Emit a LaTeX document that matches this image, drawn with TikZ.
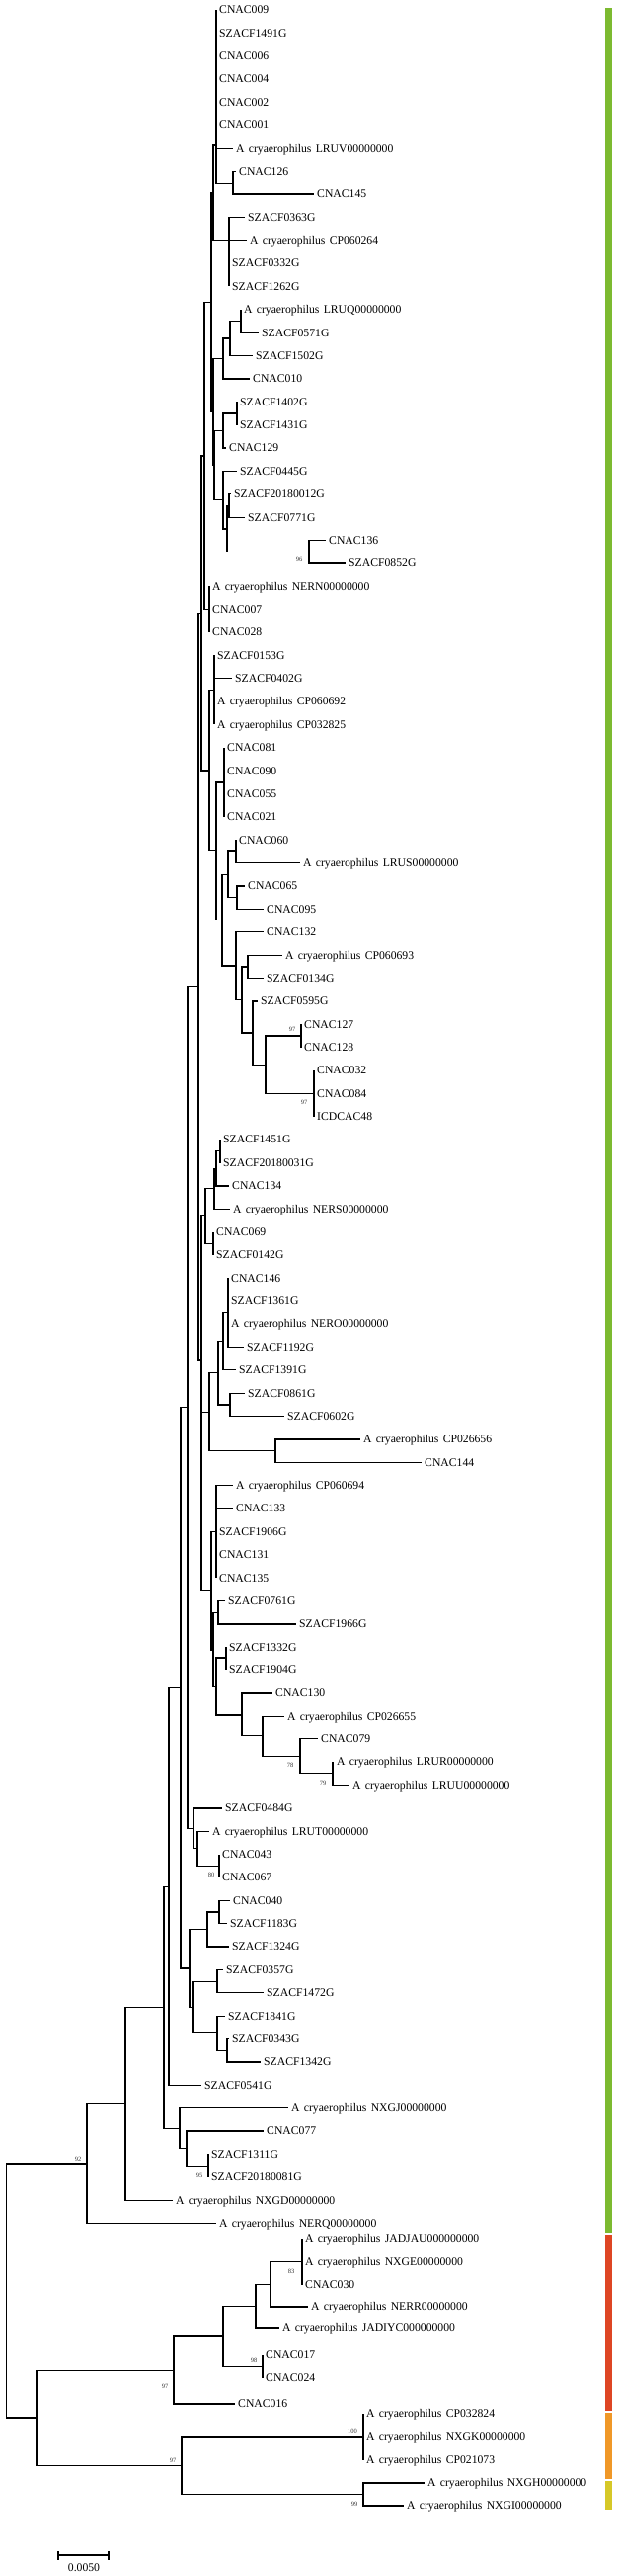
\documentclass[tikz,border=0pt]{standalone}
\usepackage{fontspec}
\setmainfont{Liberation Serif}
\newcommand\acry[1]{A\hspace{0.36em}cryaerophilus\hspace{0.36em}#1}
\definecolor{cbarG}{RGB}{124,186,48}
\definecolor{cbarR}{RGB}{222,70,36}
\definecolor{cbarO}{RGB}{240,152,40}
\definecolor{cbarY}{RGB}{214,200,40}
\tikzset{
  br/.style={line width=1.25pt},
  leaf/.style={anchor=west, inner xsep=3pt, inner ysep=0pt, text height=7.7pt, text depth=0pt, font=\fontsize{11.7}{12}\selectfont},
  boot/.style={inner sep=0pt, font=\fontsize{6.5}{7}\selectfont, text=black!80},
}
\newcommand\nd[4]{\coordinate (#1) at (#3,#4);}
\newcommand\cn[2]{\draw[br] (#1) |- (#2);}
\newcommand\lf[5]{\node[leaf] (#1) at (#3,#4) {#5}; \draw[br] (#2) |- (#1.west);}
\begin{document}
\begin{tikzpicture}[x=1pt,y=-1pt]
\useasboundingbox (0,0) rectangle (627,2611);
% internal nodes
\coordinate (root) at (6.8,2322);
\nd{n92}{root}{88}{2193.0}
\nd{n37}{root}{37}{2451}
\nd{nO}{n92}{127}{2132.4}
\nd{nM}{nO}{166}{2034.6}
\nd{nL}{nM}{171}{1912.1}
\nd{nI}{nL}{183}{1710.8}
\nd{nG}{nI}{190}{1426.6}
\nd{nF}{nG}{201}{999.8}
\nd{nE}{nF}{204}{621.6}
\nd{nD}{nE}{207}{462.0}
\nd{nC}{nD}{214}{306.5}
\nd{nB}{nC}{216}{195.4}
\nd{nA}{nB}{219}{147}
\nd{n126}{nA}{236}{185.3}
\nd{n0363}{nB}{232}{243.7}
\nd{nT}{nC}{216}{417.5}
\nd{nLQ}{nT}{226}{363.5}
\nd{n233}{nLQ}{233}{343.0}
\nd{n244}{n233}{244}{325.5}
\nd{nS}{nT}{217}{471.6}
\nd{nR}{nS}{226}{436.5}
\nd{n240}{nR}{240}{419.0}
\nd{nP}{nS}{226}{506.6}
\nd{nQ}{nP}{230}{535.9}
\nd{n232}{nQ}{232}{512.5}
\nd{n313}{nQ}{313}{559.2}
\nd{nN}{nD}{212}{617.6}
\nd{n212}{nE}{212}{781.1}
\nd{n0153}{n212}{217}{699.4}
\nd{n219b}{n212}{219}{862.8}
\nd{n081}{n219b}{227}{792.9}
\nd{n225}{n219b}{225}{932.75}
\nd{n231}{n225}{231}{886.4}
\nd{n060}{n231}{239}{863.0}
\nd{n065}{n231}{240}{909.75}
\nd{n239}{n225}{239}{979.1}
\nd{n245}{n239}{245}{1013.45}
\nd{n251}{n245}{251}{979.86}
\nd{n256}{n245}{256}{1047.05}
\nd{n269}{n256}{269}{1079.18}
\nd{n305}{n269}{305}{1049.97}
\nd{n318}{n269}{318}{1108.39}
\nd{nH}{nF}{204}{1378}
\nd{n208}{nH}{208}{1232.5}
\nd{n217}{n208}{217}{1204.8}
\nd{n219c}{n217}{219}{1184.3}
\nd{n223}{n219c}{223}{1166.8}
\nd{n216}{n208}{216}{1260.3}
\nd{n212c}{nH}{212}{1431.2}
\nd{n221}{n212c}{221}{1391.7}
\nd{n226c}{n221}{226}{1359.6}
\nd{n231c}{n226c}{231}{1330.4}
\nd{n233c}{n221}{233}{1423.9}
\nd{n279}{n212c}{279}{1470.6}
\nd{nJ}{nH}{214}{1612.2}
\nd{nK}{nJ}{219}{1552.4}
\nd{n216d}{nJ}{216}{1671.9}
\nd{n221d}{n216d}{221}{1634.2}
\nd{n222}{n216d}{219}{1709.5}
\nd{n229}{n222}{229}{1681.0}
\nd{n245d}{n222}{245}{1737.9}
\nd{n266}{n245d}{266}{1759.8}
\nd{n304}{n266}{304}{1780.3}
\nd{n337}{n304}{337}{1797.8}
\nd{n196}{nG}{196}{1853.3}
\nd{n200}{n196}{200}{1873.8}
\nd{n222e}{n200}{222}{1891.3}
\nd{n192}{nI}{192}{1995.0}
\nd{n210}{n192}{210}{1955.5}
\nd{n222f}{n210}{222}{1938.0}
\nd{n195}{n192}{195}{2034.4}
\nd{n220a}{n195}{220}{2008.1}
\nd{n220b}{n195}{220}{2060.7}
\nd{n230}{n220b}{230}{2078.2}
\nd{n182}{nM}{182}{2157.1}
\nd{n189}{n182}{189}{2177.6}
\nd{n211}{n189}{211}{2195.1}
\nd{n176}{n37}{176}{2402.5}
\nd{n226r}{n176}{226}{2368}
\nd{n259}{n226r}{259}{2337.6}
\nd{n274}{n259}{274}{2315.3}
\nd{n306}{n274}{306}{2292.5}
\nd{n266r}{n226r}{266}{2398.5}
\nd{n184}{n37}{184}{2499}
\nd{n368a}{n184}{368}{2470}
\nd{n368b}{n184}{368}{2528.5}
% internal connectors
\cn{root}{n92}\cn{root}{n37}\cn{n92}{nO}\cn{nO}{nM}\cn{nM}{nL}\cn{nL}{nI}\cn{nI}{nG}
\cn{nG}{nF}\cn{nF}{nE}\cn{nE}{nD}\cn{nD}{nC}\cn{nC}{nB}\cn{nB}{nA}\cn{nA}{n126}
\cn{nB}{n0363}\cn{nC}{nT}\cn{nT}{nLQ}\cn{nLQ}{n233}\cn{n233}{n244}\cn{nT}{nS}
\cn{nS}{nR}\cn{nR}{n240}\cn{nS}{nP}\cn{nP}{nQ}\cn{nQ}{n232}\cn{nQ}{n313}\cn{nD}{nN}
\cn{nE}{n212}\cn{n212}{n0153}\cn{n212}{n219b}\cn{n219b}{n081}\cn{n219b}{n225}
\cn{n225}{n231}\cn{n231}{n060}\cn{n231}{n065}\cn{n225}{n239}\cn{n239}{n245}
\cn{n245}{n251}\cn{n245}{n256}\cn{n256}{n269}\cn{n269}{n305}\cn{n269}{n318}
\cn{nF}{nH}\cn{nH}{n208}\cn{n208}{n217}\cn{n217}{n219c}\cn{n219c}{n223}\cn{n208}{n216}
\cn{nH}{n212c}\cn{n212c}{n221}\cn{n221}{n226c}\cn{n226c}{n231c}\cn{n221}{n233c}
\cn{n212c}{n279}\cn{nH}{nJ}\cn{nJ}{nK}\cn{nJ}{n216d}\cn{n216d}{n221d}\cn{n216d}{n222}
\cn{n222}{n229}\cn{n222}{n245d}\cn{n245d}{n266}\cn{n266}{n304}\cn{n304}{n337}
\cn{nG}{n196}\cn{n196}{n200}\cn{n200}{n222e}\cn{nI}{n192}\cn{n192}{n210}\cn{n210}{n222f}
\cn{n192}{n195}\cn{n195}{n220a}\cn{n195}{n220b}\cn{n220b}{n230}\cn{nM}{n182}
\cn{n182}{n189}\cn{n189}{n211}\cn{n37}{n176}\cn{n176}{n226r}\cn{n226r}{n259}
\cn{n259}{n274}\cn{n274}{n306}\cn{n226r}{n266r}\cn{n37}{n184}\cn{n184}{n368a}\cn{n184}{n368b}
% leaves
\lf{l1}{nA}{219}{10.0}{CNAC009}
\lf{l2}{nA}{219}{33.37}{SZACF1491G}
\lf{l3}{nA}{219}{56.74}{CNAC006}
\lf{l4}{nA}{219}{80.11}{CNAC004}
\lf{l5}{nA}{219}{103.48}{CNAC002}
\lf{l6}{nA}{219}{126.85}{CNAC001}
\lf{l7}{nA}{236}{150.22}{\acry{LRUV00000000}}
\lf{l8}{n126}{239}{173.59}{CNAC126}
\lf{l9}{n126}{318}{196.96}{CNAC145}
\lf{l10}{n0363}{248}{220.33}{SZACF0363G}
\lf{l11}{n0363}{250}{243.70}{\acry{CP060264}}
\lf{l12}{n0363}{232}{267.07}{SZACF0332G}
\lf{l13}{n0363}{232}{290.44}{SZACF1262G}
\lf{l14}{n244}{244}{313.81}{\acry{LRUQ00000000}}
\lf{l15}{n244}{262}{337.18}{SZACF0571G}
\lf{l16}{n233}{256}{360.55}{SZACF1502G}
\lf{l17}{nLQ}{253}{383.92}{CNAC010}
\lf{l18}{n240}{240}{407.29}{SZACF1402G}
\lf{l19}{n240}{240}{430.66}{SZACF1431G}
\lf{l20}{nR}{229}{454.03}{CNAC129}
\lf{l21}{nP}{240}{477.40}{SZACF0445G}
\lf{l22}{n232}{234}{500.77}{SZACF20180012G}
\lf{l23}{n232}{248}{524.14}{SZACF0771G}
\lf{l24}{n313}{330}{547.51}{CNAC136}
\lf{l25}{n313}{350}{570.88}{SZACF0852G}
\lf{l26}{nN}{212}{594.25}{\acry{NERN00000000}}
\lf{l27}{nN}{212}{617.62}{CNAC007}
\lf{l28}{nN}{212}{640.99}{CNAC028}
\lf{l29}{n0153}{217}{664.36}{SZACF0153G}
\lf{l30}{n0153}{235}{687.73}{SZACF0402G}
\lf{l31}{n0153}{217}{711.10}{\acry{CP060692}}
\lf{l32}{n0153}{217}{734.47}{\acry{CP032825}}
\lf{l33}{n081}{227}{757.84}{CNAC081}
\lf{l34}{n081}{227}{781.21}{CNAC090}
\lf{l35}{n081}{227}{804.58}{CNAC055}
\lf{l36}{n081}{227}{827.95}{CNAC021}
\lf{l37}{n060}{239}{851.32}{CNAC060}
\lf{l38}{n060}{304}{874.69}{\acry{LRUS00000000}}
\lf{l39}{n065}{248}{898.06}{CNAC065}
\lf{l40}{n065}{267}{921.43}{CNAC095}
\lf{l41}{n239}{267}{944.80}{CNAC132}
\lf{l42}{n251}{286}{968.17}{\acry{CP060693}}
\lf{l43}{n251}{267}{991.54}{SZACF0134G}
\lf{l44}{n256}{261}{1014.91}{SZACF0595G}
\lf{l45}{n305}{305}{1038.28}{CNAC127}
\lf{l46}{n305}{305}{1061.65}{CNAC128}
\lf{l47}{n318}{318}{1085.02}{CNAC032}
\lf{l48}{n318}{318}{1108.39}{CNAC084}
\lf{l49}{n318}{318}{1131.76}{ICDCAC48}
\lf{l50}{n223}{223}{1155.13}{SZACF1451G}
\lf{l51}{n223}{223}{1178.50}{SZACF20180031G}
\lf{l52}{n219c}{232}{1201.87}{CNAC134}
\lf{l53}{n217}{233}{1225.24}{\acry{NERS00000000}}
\lf{l54}{n216}{216}{1248.61}{CNAC069}
\lf{l55}{n216}{216}{1271.98}{SZACF0142G}
\lf{l56}{n231c}{231}{1295.35}{CNAC146}
\lf{l57}{n231c}{231}{1318.72}{SZACF1361G}
\lf{l58}{n231c}{231}{1342.09}{\acry{NERO00000000}}
\lf{l59}{n231c}{247}{1365.46}{SZACF1192G}
\lf{l60}{n226c}{239}{1388.83}{SZACF1391G}
\lf{l61}{n233c}{248}{1412.20}{SZACF0861G}
\lf{l62}{n233c}{288}{1435.57}{SZACF0602G}
\lf{l63}{n279}{365}{1458.94}{\acry{CP026656}}
\lf{l64}{n279}{427}{1482.31}{CNAC144}
\lf{l65}{nK}{236}{1505.68}{\acry{CP060694}}
\lf{l66}{nK}{236}{1529.05}{CNAC133}
\lf{l67}{nK}{219}{1552.42}{SZACF1906G}
\lf{l68}{nK}{219}{1575.79}{CNAC131}
\lf{l69}{nK}{219}{1599.16}{CNAC135}
\lf{l70}{n221d}{228}{1622.53}{SZACF0761G}
\lf{l71}{n221d}{300}{1645.90}{SZACF1966G}
\lf{l72}{n229}{229}{1669.27}{SZACF1332G}
\lf{l73}{n229}{229}{1692.64}{SZACF1904G}
\lf{l74}{n245d}{276}{1716.01}{CNAC130}
\lf{l75}{n266}{288}{1739.38}{\acry{CP026655}}
\lf{l76}{n304}{322}{1762.75}{CNAC079}
\lf{l77}{n337}{338}{1786.12}{\acry{LRUR00000000}}
\lf{l78}{n337}{354}{1809.49}{\acry{LRUU00000000}}
\lf{l79}{n196}{225}{1832.86}{SZACF0484G}
\lf{l80}{n200}{212}{1856.23}{\acry{LRUT00000000}}
\lf{l81}{n222e}{222}{1879.60}{CNAC043}
\lf{l82}{n222e}{222}{1902.97}{CNAC067}
\lf{l83}{n222f}{233}{1926.34}{CNAC040}
\lf{l84}{n222f}{230}{1949.71}{SZACF1183G}
\lf{l85}{n210}{232}{1973.08}{SZACF1324G}
\lf{l86}{n220a}{226}{1996.45}{SZACF0357G}
\lf{l87}{n220a}{267}{2019.82}{SZACF1472G}
\lf{l88}{n220b}{228}{2043.19}{SZACF1841G}
\lf{l89}{n230}{232}{2066.56}{SZACF0343G}
\lf{l90}{n230}{264}{2089.93}{SZACF1342G}
\lf{l91}{nL}{204}{2113.30}{SZACF0541G}
\lf{l92}{n182}{292}{2136.67}{\acry{NXGJ00000000}}
\lf{l93}{n189}{267}{2160.04}{CNAC077}
\lf{l94}{n211}{211}{2183.41}{SZACF1311G}
\lf{l95}{n211}{211}{2206.78}{SZACF20180081G}
\lf{l96}{nO}{175}{2230.15}{\acry{NXGD00000000}}
\lf{l97}{n92}{219}{2253.52}{\acry{NERQ00000000}}
\lf{l98}{n306}{306}{2269}{\acry{JADJAU000000000}}
\lf{l99}{n306}{306}{2293}{\acry{NXGE00000000}}
\lf{l100}{n306}{306}{2316}{CNAC030}
\lf{l101}{n274}{312}{2338}{\acry{NERR00000000}}
\lf{l102}{n259}{283}{2360}{\acry{JADIYC000000000}}
\lf{l103}{n266r}{266}{2387}{CNAC017}
\lf{l104}{n266r}{266}{2410}{CNAC024}
\lf{l105}{n176}{238}{2437}{CNAC016}
\lf{l106}{n368a}{368}{2447}{\acry{CP032824}}
\lf{l107}{n368a}{368}{2470}{\acry{NXGK00000000}}
\lf{l108}{n368a}{368}{2493}{\acry{CP021073}}
\lf{l109}{n368b}{430}{2517}{\acry{NXGH00000000}}
\lf{l110}{n368b}{409}{2540}{\acry{NXGI00000000}}
% bootstrap values
\node[boot] (b96) at (303,567) {96};
\node[boot] (b97a) at (296,1043) {97};
\node[boot] (b97b) at (308,1117) {97};
\node[boot] (b78) at (294,1789) {78};
\node[boot] (b79) at (327,1807) {79};
\node[boot] (b80) at (214,1900) {80};
\node[boot] (b92) at (79,2188) {92};
\node[boot] (b95) at (202,2205) {95};
\node[boot] (b83) at (295,2302) {83};
\node[boot] (b98) at (257,2392) {98};
\node[boot] (b97c) at (167,2418) {97};
\node[boot] (b100) at (357,2464) {100};
\node[boot] (b97d) at (175,2493) {97};
\node[boot] (b99) at (359,2538) {99};
% colour bars
\fill[cbarG] (613,8) rectangle (620,2263);
\fill[cbarR] (613,2265) rectangle (620,2444);
\fill[cbarO] (613,2446) rectangle (620,2513);
\fill[cbarY] (613,2515) rectangle (620,2544);
% scale bar
\coordinate (sbL) at (59,2590);
\coordinate (sbR) at (110,2590);
\draw[line width=1.2pt] (sbL) -- (sbR);
\draw[line width=1.2pt] ([yshift=-4.5pt]sbL) -- ([yshift=4.5pt]sbL);
\draw[line width=1.2pt] ([yshift=-4.5pt]sbR) -- ([yshift=4.5pt]sbR);
\node[font=\fontsize{11.7}{12}\selectfont, inner sep=0pt] (sbt) at (85,2603) {0.0050};
\end{tikzpicture}
\end{document}
